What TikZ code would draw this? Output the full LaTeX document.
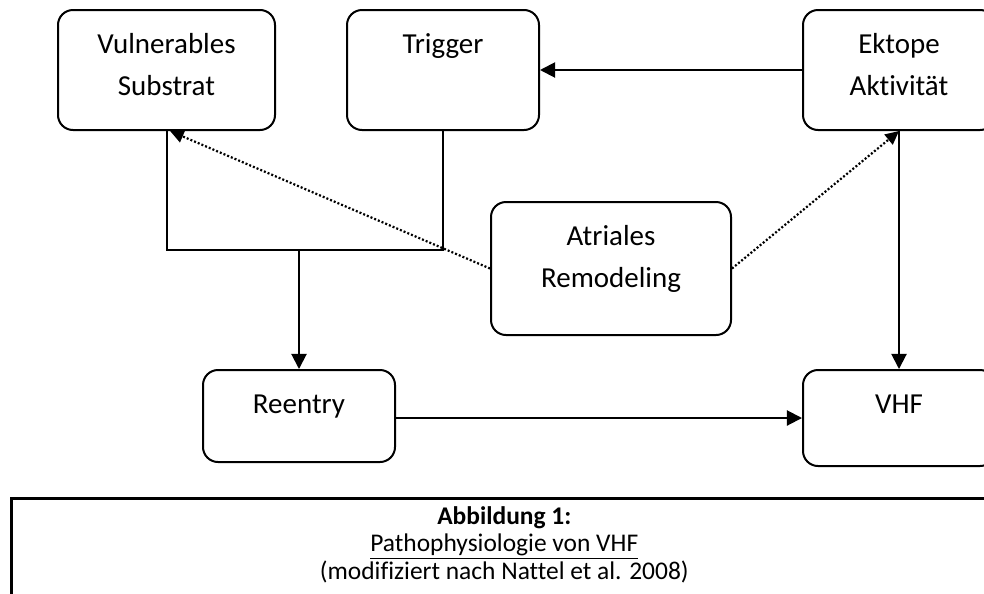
\documentclass[tikz,border=0pt]{standalone}
\usepackage{fontspec}
\setmainfont[Ligatures={TeX,NoCommon}]{Carlito}
\usetikzlibrary{arrows.meta}

\newlength{\px}\setlength{\px}{0.025cm}
% text box: width, height (in px), first baseline fixed below the top
\newcommand{\boxtext}[3]{\parbox[c][#2\px][t]{#1\px}{\centering\rule{0pt}{43\px}#3}}

\tikzset{
  flowbox/.style={draw, rounded corners=0.375cm, line width=0.05cm, inner sep=0pt,
    font=\fontsize{20.6pt}{29.9pt}\selectfont},
  capbox/.style={draw, line width=0.065cm, inner sep=0pt,
    font=\fontsize{18.1pt}{19.6pt}\selectfont},
  flowline/.style={line width=0.05cm},
  flowarrow/.style={line width=0.05cm, -{Triangle[length=0.38cm, width=0.38cm]}},
  remodarrow/.style={line width=0.055cm, dash pattern=on 0.05cm off 0.05cm,
    -{Triangle[length=0.34cm, width=0.32cm]}},
}

\begin{document}
\begin{tikzpicture}[x=0.025cm, y=-0.025cm]
    \useasboundingbox (0,0) rectangle (984,593);
    \clip (0,0) rectangle (984,593);

    % Boxes
    \node[flowbox] (vuln) at (166.5,70) {\boxtext{217}{120}{Vulnerables\\Substrat}};
    \node[flowbox] (trig) at (443,70) {\boxtext{192}{120}{Trigger}};
    \node[flowbox] (ekt) at (899,70) {\boxtext{192}{120}{Ektope\\Aktivität}};
    \node[flowbox] (atr) at (611,268.5) {\boxtext{240}{133}{Atriales\\Remodeling}};
    \node[flowbox] (reen) at (299,416) {\boxtext{192}{92}{Reentry}};
    \node[flowbox] (vhf) at (899,418) {\boxtext{192}{96}{VHF}};

    % Substrat and trigger join into reentry
    \coordinate (split) at (299,250);
    \draw[flowline] (vuln.south) |- (split) -| (trig.south);
    \draw[flowarrow] (split) -- (split |- reen.north);

    \draw[flowarrow] (ekt) -- (trig);
    \draw[flowarrow] (ekt) -- (vhf);
    \draw[flowarrow] (reen.east |- vhf.west) -- (vhf.west);

    % Remodeling (dotted)
    \draw[remodarrow] (atr.west) -- ([xshift=0.09cm]vuln.south);
    \draw[remodarrow] (atr.east) -- (ekt.south);

    % Caption
    \node[capbox, anchor=north west] (caption) at (10,497) {\parbox[c][120\px][t]{986\px}{\centering\rule{0pt}{26\px}\textbf{Abbildung 1:}\\\underline{Pathophysiologie von VHF}\\(modifiziert nach Nattel et al. 2008)}};
\end{tikzpicture}
\end{document}
